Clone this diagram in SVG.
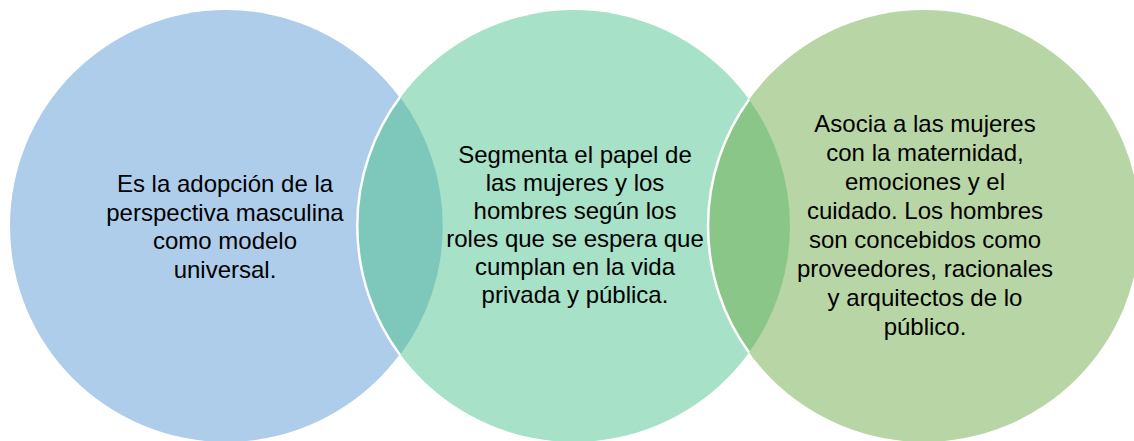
<svg xmlns="http://www.w3.org/2000/svg" width="1134" height="441" viewBox="0 0 1134 441">
<style>
.t{font-family:"Liberation Sans",Arial,sans-serif;font-size:24px;fill:#000;text-anchor:middle}
.edge{fill:none;stroke:#fff;stroke-width:2.5}
</style>
<rect width="1134" height="441" fill="#fff"/>
<g id="circle-left">
<circle cx="226" cy="226" r="216" fill="#AECDEA"/>
</g>
<g id="circle-middle">
<circle cx="574" cy="226" r="216" fill="#A6E1C8"/>
</g>
<g id="circle-right">
<circle cx="924" cy="226" r="216" fill="#B8D6A5"/>
</g>
<g id="overlaps">
<path d="M400,97 A216,216 0 0 1 400,355 A216,216 0 0 1 400,97 Z" fill="#7DC8BB"/>
<path d="M749,99.4 A216,216 0 0 1 749,352.6 A216,216 0 0 1 749,99.4 Z" fill="#8BC689"/>
<path class="edge" d="M400,355 A216,216 0 0 1 400,97"/>
<path class="edge" d="M749,352.6 A216,216 0 0 1 749,99.4"/>
</g>
<g id="text-left">
<text class="t" x="225" y="192">Es la adopción de la</text>
<text class="t" x="225" y="220.5">perspectiva masculina</text>
<text class="t" x="225" y="249">como modelo</text>
<text class="t" x="225" y="277.5">universal.</text>
</g>
<g id="text-middle">
<text class="t" x="575" y="163">Segmenta el papel de</text>
<text class="t" x="575" y="191">las mujeres y los</text>
<text class="t" x="575" y="219">hombres según los</text>
<text class="t" x="575" y="247">roles que se espera que</text>
<text class="t" x="575" y="275">cumplan en la vida</text>
<text class="t" x="575" y="303">privada y pública.</text>
</g>
<g id="text-right">
<text class="t" x="925" y="132">Asocia a las mujeres</text>
<text class="t" x="925" y="161">con la maternidad,</text>
<text class="t" x="925" y="190">emociones y el</text>
<text class="t" x="925" y="219">cuidado. Los hombres</text>
<text class="t" x="925" y="248">son concebidos como</text>
<text class="t" x="925" y="277">proveedores, racionales</text>
<text class="t" x="925" y="306">y arquitectos de lo</text>
<text class="t" x="925" y="335">público.</text>
</g>
</svg>
